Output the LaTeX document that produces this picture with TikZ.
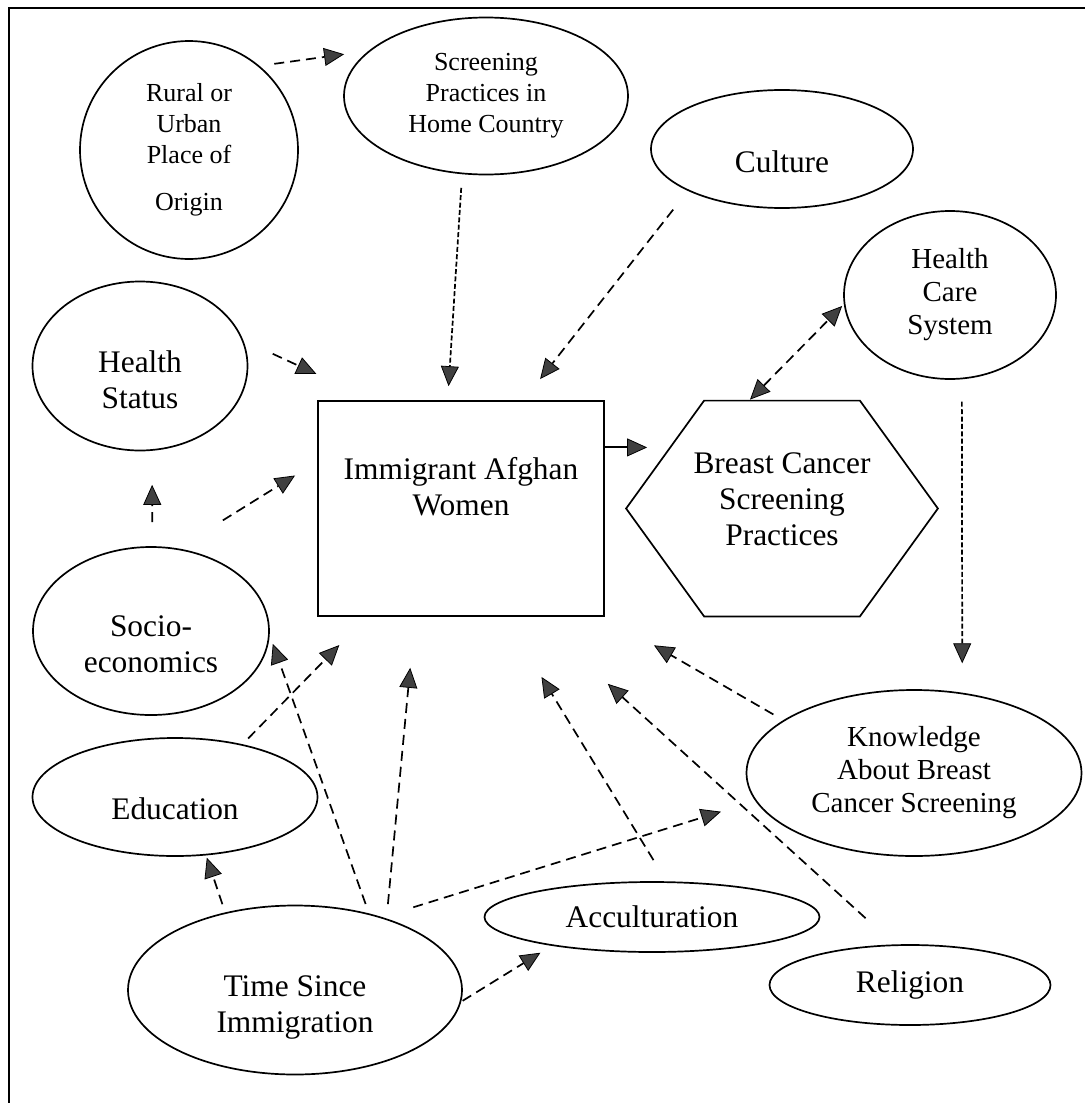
\documentclass[tikz,border=0pt]{standalone}
\usepackage{fontspec}
\setmainfont{Liberation Serif}
\usepackage{tikz}
\usetikzlibrary{arrows.meta, shapes.geometric}
\newcommand{\sink}[1]{\rule{0pt}{#1}}
\newcommand{\lift}[1]{\rule[-#1]{0pt}{#1}}
\tikzset{
    bubble/.style = {draw, ellipse, line width=0.85pt, inner sep=0pt, align=center, font=\fontsize{15.7}{18}\selectfont},
    small-bubble/.style = {bubble, font=\fontsize{13}{15.5}\selectfont},
    mid-bubble/.style = {bubble, font=\fontsize{14.5}{16.5}\selectfont},
    main-box/.style = {draw, rectangle, line width=0.85pt, inner sep=0pt, align=center, font=\fontsize{15.7}{18}\selectfont},
    hex-box/.style = {rectangle, inner sep=0pt, align=center, font=\fontsize{15.7}{18}\selectfont},
    link/.style = {->, line width=0.85pt, dash pattern=on 5pt off 3pt},
    fine-link/.style = {->, line width=0.85pt, dash pattern=on 2.5pt off 1.2pt},
    solid-link/.style = {->, line width=1pt},
}
\begin{document}
\begin{tikzpicture}[x=0.5pt, y=-0.5pt, >={Triangle[length=10pt, width=9pt, fill=black!75, line width=0.4pt]}]
\useasboundingbox (0,0) rectangle (1085,1103);
\draw[line width=0.8pt] (8.7,1103) -- (8.7,7.7) -- (1085,7.7);

\node[small-bubble, minimum width=109pt, minimum height=109pt] (rural) at (189,150) {Rural or\\Urban\\Place of\\[8pt]Origin};
\node[small-bubble, minimum width=142pt, minimum height=78.5pt] (screening) at (486,96) {Screening\\Practices in\\Home Country};
\node[bubble, minimum width=131pt, minimum height=59pt] (culture) at (782,149) {\sink{24pt}Culture};
\node[mid-bubble, minimum width=106pt, minimum height=84pt] (hcs) at (950,295) {Health\\Care\\System};
\node[bubble, minimum width=107.5pt, minimum height=84.5pt] (health) at (140,366) {\sink{25pt}Health\\Status};
\node[main-box, minimum width=143pt, minimum height=107.5pt] (afghan) at (461,508.5) {Immigrant Afghan\\Women\lift{22pt}};
\node[hex-box, minimum width=155.5pt, minimum height=107.5pt] (practices) at (782,508.5) {Breast Cancer\\Screening\\Practices\lift{9pt}};
\draw[line width=0.85pt] (practices.west) -- ([xshift=39pt]practices.north west) -- ([xshift=-39pt]practices.north east) -- (practices.east) -- ([xshift=-39pt]practices.south east) -- ([xshift=39pt]practices.south west) -- cycle;
\node[bubble, minimum width=118pt, minimum height=84pt] (socio) at (151,631) {\sink{24pt}Socio-\\economics};
\node[bubble, minimum width=142.5pt, minimum height=59pt] (education) at (175,797) {\sink{23pt}Education};
\node[bubble, minimum width=167pt, minimum height=84.5pt] (time) at (295,990) {\sink{28pt}Time Since\\Immigration};
\node[bubble, minimum width=167.5pt, minimum height=35pt] (accult) at (652,917) {Acculturation};
\node[mid-bubble, minimum width=167.5pt, minimum height=83pt] (knowledge) at (914,773) {Knowledge\\About Breast\\Cancer Screening};
\node[bubble, minimum width=140.5pt, minimum height=40pt] (religion) at (910,985) {Religion};

\draw[link, shorten <=7.4pt, shorten >=12.3pt] (rural.50) -- (screening.159);
\draw[fine-link, shorten <=6.8pt, shorten >=7pt] (screening.253) -- (afghan.97);
\draw[link, shorten <=11.9pt, shorten >=13.4pt] (culture.204) -- (afghan.60);
\draw[link, shorten <=16.2pt, shorten >=31.3pt] (health.14) -- (afghan.129);
\draw[link, shorten <=12pt, shorten >=17pt] (socio.89) -- (health.278);
\draw[link, shorten <=26.5pt, shorten >=13pt] (socio.72) -- (afghan.162);
\draw[solid-link, shorten >=-10.5pt] (afghan.23) -- (afghan.23 -| practices.west);
\draw[link, <->, shorten <=0.7pt, shorten >=1.2pt] (practices.107) -- (hcs.185);
\draw[fine-link, shorten <=11.2pt, shorten >=14.7pt] (hcs.278) -- (knowledge.59);
\draw[link, shorten <=5.7pt, shorten >=28.4pt] (knowledge.158) -- (afghan.south east);
\draw[link, shorten <=19.5pt, shorten >=49.8pt] (religion.111) -- (afghan.304);
\draw[link, shorten <=12.4pt, shorten >=35.2pt] (accult.68) -- (afghan.292);
\draw[link, shorten <=16.4pt, shorten >=18pt] (time.40) -- (knowledge.190);
\draw[link, shorten <=0.8pt, shorten >=6.6pt] (time.356) -- (accult.196);
\draw[link, shorten <=4.3pt, shorten >=1.2pt] (time.132) -- (education.298);
\draw[link, shorten <=5pt, shorten >=4.6pt] (time.46) -- (socio.358);
\draw[link, shorten <=7.2pt, shorten >=25.6pt] (time.38) -- (afghan.247);
\draw[link, shorten <=4pt, shorten >=19.7pt] (education.38) -- (afghan.229);
\end{tikzpicture}
\end{document}
